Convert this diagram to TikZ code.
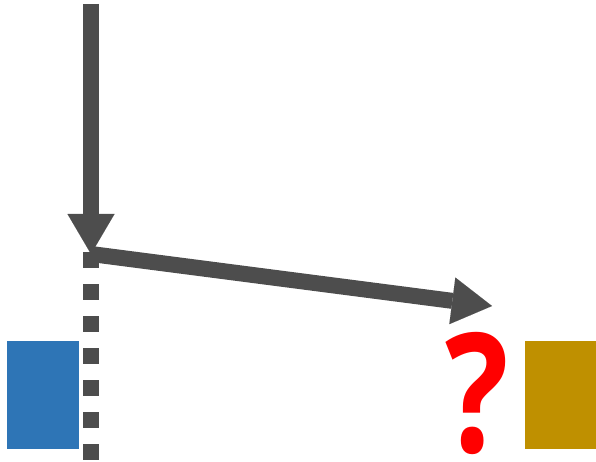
\documentclass[tikz,border=0pt]{standalone}
\usepackage{fontspec}
\newfontfamily\qfont{Open Sans}
\usetikzlibrary{arrows.meta}
\definecolor{arrowgray}{HTML}{4D4D4D}
\definecolor{boxblue}{HTML}{2E75B6}
\definecolor{boxgold}{HTML}{BF9000}
\begin{document}
\begin{tikzpicture}[x=1pt,y=-1pt,
  arrowline/.style={draw=arrowgray, line width=16pt,
    -{Triangle[length=40pt,width=47pt,line width=0.01pt]}},
  dottedline/.style={draw=arrowgray, line width=16pt, dash pattern=on 16pt off 16pt},
  colbox/.style={draw=none, inner sep=0pt, minimum width=72pt, minimum height=108pt}]
\useasboundingbox (0,0) rectangle (596,462);
\coordinate (top) at (91,4);
\coordinate (corner) at (91,254);
\coordinate (target) at (492,306);
\coordinate (dtop) at (91,252);
\coordinate (dbot) at (91,460);
\node[colbox, fill=boxblue] (blue) at (43,395) {};
\node[colbox, fill=boxgold, minimum width=71pt] (gold) at (560.5,395) {};
\node[text=red, font=\qfont\bfseries\fontsize{166}{166}\selectfont, inner sep=0pt, text depth=0pt, anchor=base] (q) at (477,452) {\scalebox{0.8}[1]{?}};
\draw[dottedline] (dtop) -- (dbot);
\draw[arrowline] (top) -- (corner);
\draw[arrowline] (corner) -- (target);
\end{tikzpicture}
\end{document}
